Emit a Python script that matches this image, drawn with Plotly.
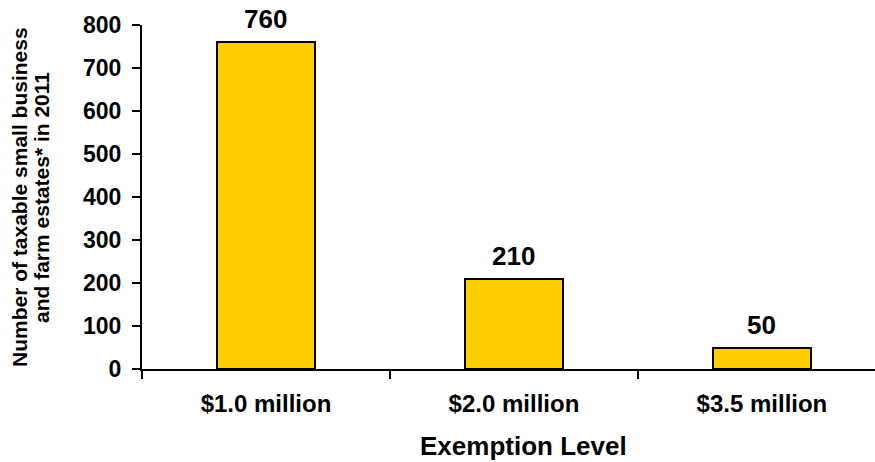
import plotly.graph_objects as go

# Estate counts by exemption level
categories = ["$1.0 million", "$2.0 million", "$3.5 million"]
estates = [760, 210, 50]
y_ticks = [0, 100, 200, 300, 400, 500, 600, 700, 800]
y_title_lines = ["Number of taxable small business", "and farm estates* in 2011"]

FONT = "Liberation Sans, Arial, sans-serif"
BAR_COLOR = "#FFCC00"
PLOT_LEFT, PLOT_WIDTH = 142, 733
PLOT_BOTTOM, PLOT_HEIGHT = 369, 344

fig = go.Figure()
fig.add_trace(go.Bar(
    x=categories,
    y=estates,
    width=0.395,
    marker=dict(color=BAR_COLOR, line=dict(color="black", width=2)),
    hoverinfo="x+y",
))

# Value labels above each bar
for cat, val in zip(categories, estates):
    fig.add_annotation(
        x=cat, y=val, text=f"<b>{val}</b>", showarrow=False,
        yanchor="bottom", yshift=6,
        font=dict(family=FONT, size=26, color="black"),
    )

# Axis titles
fig.add_annotation(
    xref="paper", yref="paper",
    x=(523 - PLOT_LEFT) / PLOT_WIDTH, y=(PLOT_BOTTOM - 446) / PLOT_HEIGHT,
    yanchor="middle", borderpad=0,
    text="<b>Exemption Level</b>", showarrow=False,
    font=dict(family=FONT, size=26, color="black"),
)
for px, line in zip([19, 41], y_title_lines):
    fig.add_annotation(
        xref="paper", yref="paper", x=(px - PLOT_LEFT) / PLOT_WIDTH, y=0.5,
        xanchor="center", yanchor="middle", textangle=-90,
        text=f"<b>{line}</b>", showarrow=False,
        font=dict(family=FONT, size=21, color="black"),
    )

fig.update_layout(
    width=875, height=462,
    margin=dict(l=142, r=0, t=25, b=93),
    paper_bgcolor="white", plot_bgcolor="white",
    showlegend=False,
    font=dict(family=FONT, color="black"),
    bargap=0,
)
fig.update_xaxes(
    type="category",
    range=[-0.5, 2.456],
    showline=True, linecolor="black", linewidth=2,
    ticks="outside", tickson="boundaries", ticklen=8, tickwidth=2, tickcolor="black",
    tickfont=dict(family=FONT, size=24, color="black", weight="bold"),
    ticklabelstandoff=12,
    showgrid=False, zeroline=False,
)
fig.update_yaxes(
    range=[0, 800],
    tickvals=y_ticks,
    showline=True, linecolor="black", linewidth=2,
    ticks="outside", ticklen=8, tickwidth=2, tickcolor="black",
    tickfont=dict(family=FONT, size=23, color="black", weight="bold"),
    ticklabelstandoff=6,
    showgrid=False, zeroline=False,
)

fig.write_html("out.html")
